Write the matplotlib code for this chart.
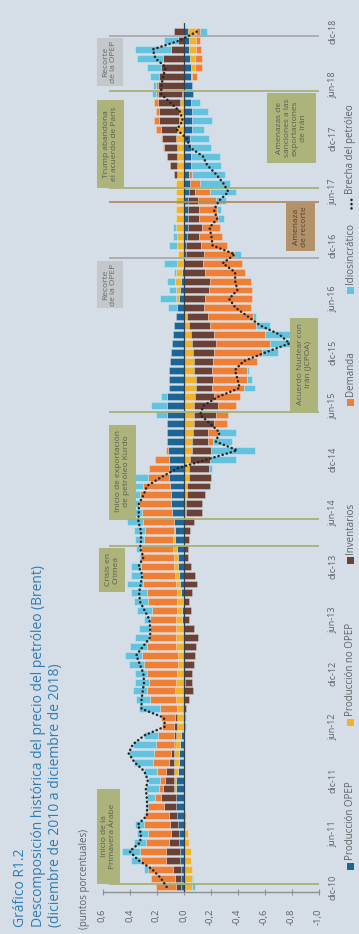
import matplotlib
matplotlib.use("Agg")
import matplotlib.pyplot as plt
import numpy as np
from matplotlib.patches import Rectangle
from matplotlib.lines import Line2D
from matplotlib.transforms import blended_transform_factory

plt.rcParams['font.family'] = ['Open Sans', 'DejaVu Sans']

# ---------------------------------------------------------------------------
# Data: monthly contributions (percentage points), Dec-2010 .. Dec-2018
# ---------------------------------------------------------------------------
opep = [0.022, 0.015, 0.017, 0.025, 0.025, 0.030, 0.037, 0.044, 0.049, 0.054, 0.057, 0.054,
        0.054, 0.044, 0.037, 0.035, 0.025, 0.020, 0.005, 0.005, 0.000, 0.000, 0.000, -0.012,
        0.000, 0.000, 0.000, 0.000, 0.000, 0.000, 0.010, 0.010, 0.005, 0.020, 0.025, 0.032,
        0.042, 0.042, 0.049, 0.062, 0.062, 0.074, 0.086, 0.091, 0.094, 0.099, 0.106, 0.111,
        0.106, 0.116, 0.119, 0.119, 0.123, 0.123, 0.119, 0.119, 0.111, 0.106, 0.104, 0.099,
        0.091, 0.086, 0.079, 0.067, 0.057, 0.049, 0.037, 0.025, 0.020, 0.012, 0.003, -0.017,
        -0.020, -0.027, -0.037, -0.032, -0.037, -0.037, -0.040, -0.049, -0.044, -0.057, -0.057, -0.057,
        -0.049, -0.064, -0.064, -0.064, -0.052, -0.069, -0.064, -0.057, -0.057, -0.049, -0.044, -0.040,
        -0.032]

no_opep = [-0.062, -0.064, -0.062, -0.057, -0.054, -0.042, -0.030, -0.020, -0.020, -0.007, 0.000, 0.015,
           0.020, 0.030, 0.032, 0.032, 0.037, 0.037, 0.042, 0.044, 0.049, 0.057, 0.062, 0.054,
           0.049, 0.044, 0.044, 0.054, 0.054, 0.054, 0.044, 0.035, 0.040, 0.030, 0.030, 0.030,
           0.027, 0.032, 0.030, 0.017, 0.012, 0.000, -0.017, -0.017, -0.025, -0.025, -0.042, -0.044,
           -0.049, -0.062, -0.062, -0.074, -0.079, -0.079, -0.081, -0.086, -0.094, -0.094, -0.081, -0.079,
           -0.074, -0.064, -0.054, -0.042, -0.025, 0.000, 0.017, 0.030, 0.042, 0.042, 0.044, 0.044,
           0.049, 0.049, 0.054, 0.054, 0.054, 0.054, 0.054, 0.054, 0.049, 0.049, 0.049, 0.049,
           0.054, 0.049, 0.037, 0.037, 0.025, 0.012, 0.000, -0.005, -0.025, -0.037, -0.049, -0.054,
           -0.057]

inventarios = [0.037, 0.049, 0.064, 0.104, 0.104, 0.077, 0.054, 0.054, 0.062, 0.089, 0.109, 0.084,
               0.062, 0.054, 0.037, 0.027, 0.007, 0.012, 0.020, 0.012, -0.017, -0.042, -0.074, -0.054,
               -0.064, -0.081, -0.086, -0.094, -0.111, -0.079, -0.044, -0.054, -0.044, -0.062, -0.099, -0.086,
               -0.054, -0.037, -0.030, -0.044, -0.049, -0.081, -0.119, -0.119, -0.136, -0.173, -0.160, -0.148,
               -0.148, -0.141, -0.116, -0.111, -0.148, -0.163, -0.178, -0.141, -0.116, -0.121, -0.133, -0.143,
               -0.153, -0.178, -0.173, -0.156, -0.153, -0.153, -0.160, -0.190, -0.198, -0.160, -0.148, -0.136,
               -0.106, -0.086, -0.099, -0.086, -0.077, -0.074, -0.042, 0.000, 0.020, 0.054, 0.074, 0.094,
               0.106, 0.119, 0.143, 0.143, 0.165, 0.178, 0.190, 0.180, 0.165, 0.153, 0.094, 0.044,
               0.074]

demanda = [0.148, 0.178, 0.185, 0.185, 0.193, 0.170, 0.173, 0.198, 0.173, 0.121, 0.044, 0.032,
           0.037, 0.072, 0.121, 0.128, 0.136, 0.123, 0.090, 0.104, 0.126, 0.190, 0.210, 0.205,
           0.222, 0.252, 0.264, 0.217, 0.198, 0.193, 0.193, 0.190, 0.215, 0.222, 0.247, 0.247,
           0.244, 0.247, 0.235, 0.210, 0.210, 0.227, 0.222, 0.235, 0.227, 0.202, 0.160, 0.141,
           0.104, 0.012, -0.044, -0.074, -0.094, -0.084, -0.131, -0.193, -0.240, -0.254, -0.259, -0.321,
           -0.358, -0.400, -0.378, -0.341, -0.336, -0.346, -0.351, -0.316, -0.304, -0.296, -0.289, -0.222,
           -0.195, -0.173, -0.138, -0.136, -0.136, -0.131, -0.111, -0.074, -0.017, 0.000, 0.000, 0.010,
           0.007, 0.037, 0.035, 0.025, 0.025, 0.015, 0.015, -0.035, -0.057, -0.052, -0.037, -0.025,
           -0.030]

idiosincratico = [-0.020, -0.010, 0.030, 0.077, 0.131, 0.086, 0.081, 0.062, 0.007, 0.012, 0.062, 0.094,
                  0.091, 0.091, 0.136, 0.185, 0.170, 0.099, -0.020, -0.020, 0.153, 0.106, 0.104, 0.099,
                  0.091, 0.109, 0.128, 0.123, 0.106, 0.079, 0.049, 0.106, 0.106, 0.119, 0.114, 0.081,
                  0.074, 0.012, 0.037, 0.069, 0.081, 0.114, 0.160, 0.140, 0.136, 0.167, 0.100, -0.017,
                  -0.193, -0.323, -0.136, -0.128, 0.000, 0.081, 0.123, 0.047, -0.077, -0.037, -0.012, 0.000,
                  -0.114, -0.230, -0.185, -0.099, -0.022, 0.064, 0.119, 0.052, 0.057, 0.020, 0.099, -0.049,
                  0.057, 0.030, 0.027, -0.049, -0.030, -0.074, -0.193, -0.225, -0.249, -0.222, -0.210, -0.143,
                  -0.143, -0.091, -0.146, -0.116, -0.067, 0.030, 0.022, 0.067, 0.106, 0.193, 0.264, 0.104,
                  -0.054]

brecha = [0.125, 0.168, 0.234, 0.334, 0.399, 0.321, 0.315, 0.338, 0.271, 0.269, 0.272, 0.279,
          0.264, 0.291, 0.363, 0.407, 0.375, 0.291, 0.137, 0.145, 0.311, 0.311, 0.302, 0.292,
          0.298, 0.324, 0.350, 0.300, 0.247, 0.247, 0.252, 0.287, 0.322, 0.329, 0.317, 0.304,
          0.333, 0.296, 0.321, 0.314, 0.316, 0.334, 0.332, 0.330, 0.296, 0.270, 0.164, 0.043,
          -0.180, -0.398, -0.239, -0.268, -0.198, -0.122, -0.148, -0.254, -0.416, -0.400, -0.381, -0.444,
          -0.608, -0.786, -0.711, -0.571, -0.479, -0.386, -0.338, -0.399, -0.383, -0.382, -0.291, -0.380,
          -0.215, -0.207, -0.193, -0.249, -0.226, -0.262, -0.332, -0.294, -0.241, -0.176, -0.144, -0.047,
          -0.025, 0.050, 0.005, 0.025, 0.096, 0.166, 0.163, 0.150, 0.132, 0.208, 0.228, 0.029,
          -0.099]

date_labels = ['dic-10', 'jun-11', 'dic-11', 'jun-12', 'dic-12', 'jun-13', 'dic-13', 'jun-14',
               'dic-14', 'jun-15', 'dic-15', 'jun-16', 'dic-16', 'jun-17', 'dic-17', 'jun-18', 'dic-18']
value_ticks = [0.6, 0.4, 0.2, 0.0, -0.2, -0.4, -0.6, -0.8, -1.0]
series_names = ['Producción OPEP', 'Producción no OPEP', 'Inventarios', 'Demanda', 'Idiosincrático']
line_name = 'Brecha del petróleo'

# events: (month index, label, box value range, box month range, style)
events = [
    (0.3, 'Inicio de la\nPrimavera Árabe', (0.470, 0.641), (0.34, 11.0), 'olive'),
    (38.3, 'Crisis en\nCrimea', (0.433, 0.626), (33.1, 38.05), 'olive'),
    (41.27, 'Inicio de exportación\nde petróleo Kurdo', (0.352, 0.552), (41.41, 51.85), 'olive'),
    (53.28, 'Acuerdo Nuclear con\nIrán (JCPOA)', (-0.996, -0.789), (53.42, 63.86), 'olive'),
    (70.56, 'Recorte\nde la OPEP', (0.448, 0.641), (64.98, 70.26), 'gray'),
    (76.91, 'Amenaza\nde recorte', (-0.974, -0.759), (71.38, 76.77), 'tan'),
    (78.4, 'Trump abandona\nel acuerdo de París', (0.441, 0.641), (78.45, 88.33), 'olive'),
    (89.34, 'Amenazas de\nsanciones a las\nexportaciones\nde Irán', (-0.981, -0.619), (81.26, 89.11), 'olive'),
    (95.5, 'Recorte\nde la OPEP', (0.448, 0.641), (89.9, 95.29), 'gray'),
]

# ---------------------------------------------------------------------------
# Styling
# ---------------------------------------------------------------------------
BG = '#d5dee7'
TITLE = '#2f7cb6'
TXT = '#5f6266'
colors = ['#1d6594', '#f1b32b', '#6a4136', '#ef7f35', '#63c3de']
box_style = {
    'olive': ('#acb47c', '#a8b07a', '#5c5e4c'),
    'gray': ('#c5c8ca', '#a9acae', '#666868'),
    'tan': ('#b3926a', '#b08d62', '#4f4234'),
}

W, H = 359, 934
fig = plt.figure(figsize=(W / 100, H / 100), dpi=100, facecolor=BG)


def fx(px):
    return px / W


def fy(py):
    return 1 - py / H


ax = fig.add_axes([fx(102.5), fy(892.3), 216 / W, (892.3 - 22.7) / H])
ax.set_facecolor(BG)

n = len(opep)
idx = np.arange(n)
pos_base = np.zeros(n)
neg_base = np.zeros(n)
for vals, col in zip([opep, no_opep, inventarios, demanda, idiosincratico], colors):
    v = np.asarray(vals)
    for sign in (1, -1):
        mask = (v * sign) > 0
        base = pos_base if sign > 0 else neg_base
        ax.barh(idx[mask], v[mask], left=base[mask], height=0.78, color=col,
                edgecolor=(1, 1, 1, 0.35), linewidth=0.5, zorder=2)
    pos_base += np.where(v > 0, v, 0)
    neg_base += np.where(v < 0, v, 0)

ax.axvline(0, color='#34404c', lw=0.9, zorder=4)

ax.plot(brecha, idx, color='#262626', lw=1.8, linestyle=(0, (0.1, 1.6)),
        dash_capstyle='round', zorder=7)

ax.set_xlim(0.6, -1.0)
ax.set_ylim(-0.6, 97)
for s in ('left', 'right', 'top'):
    ax.spines[s].set_visible(False)
ax.spines['bottom'].set_color('#8c9196')
ax.spines['bottom'].set_linewidth(1.0)
ax.set_yticks([])
ax.set_xticks(value_ticks)
ax.set_xticklabels([f'{t:.1f}'.replace('.', ',').replace('-0,0', '0,0') for t in value_ticks],
                   rotation=90)
ax.tick_params(axis='x', direction='inout', length=5, width=0.8, color='#8c9196',
               labelsize=6.8, labelcolor=TXT, pad=9)

# event lines and boxes
for pos, label, (x0, x1), (y0, y1), style in events:
    fc, lc, tc = box_style[style]
    ax.plot([0.552, -1.0], [pos, pos], color=lc, lw=1.3, zorder=5, clip_on=False,
            solid_capstyle='butt')
    ax.add_patch(Rectangle((x0, y0), x1 - x0, y1 - y0, facecolor=fc, edgecolor='none',
                           zorder=8, clip_on=False))
    ax.text((x0 + x1) / 2, (y0 + y1) / 2, label, rotation=90, ha='center', va='center',
            fontsize=6, color=tc, linespacing=1.15, zorder=9, clip_on=False)

# month labels on the right
tr = blended_transform_factory(fig.transFigure, ax.transData)
for k, lab in enumerate(date_labels):
    ax.text(fx(333), k * 6, lab, transform=tr, rotation=90, ha='center', va='center',
            fontsize=6.5, color=TXT)

# titles
fig.text(fx(21), fy(927), 'Gráfico R1.2', rotation=90, rotation_mode='anchor',
         ha='left', va='center', fontsize=10, color=TITLE)
fig.text(fx(38), fy(927), 'Descomposición histórica del precio del petróleo (Brent)',
         rotation=90, rotation_mode='anchor', ha='left', va='center', fontsize=10, color=TITLE)
fig.text(fx(55), fy(927), '(diciembre de 2010 a diciembre de 2018)', rotation=90,
         rotation_mode='anchor', ha='left', va='center', fontsize=10, color=TITLE)
fig.text(fx(84), fy(929), '(puntos porcentuales)', rotation=90, rotation_mode='anchor',
         ha='left', va='center', fontsize=7, color=TXT)

# legend
leg_y = [866, 722, 560, 402, 290]
for yc, name, col in zip(leg_y, series_names, colors):
    fig.add_artist(Rectangle((fx(347), fy(yc + 3.5)), 7 / W, 7 / H, facecolor=col,
                             edgecolor='none', transform=fig.transFigure))
    fig.text(fx(350.5), fy(yc - 6), name, rotation=90, rotation_mode='anchor',
             ha='left', va='center', fontsize=7, color=TXT)
fig.add_artist(Line2D([fx(350.5), fx(350.5)], [fy(208), fy(197)], color='#262626', lw=1.8,
                      linestyle=(0, (0.1, 1.6)), dash_capstyle='round',
                      transform=fig.transFigure))
fig.text(fx(350.5), fy(194), line_name, rotation=90, rotation_mode='anchor',
         ha='left', va='center', fontsize=7, color=TXT)

fig.savefig('out.png', dpi=100, facecolor=BG)
